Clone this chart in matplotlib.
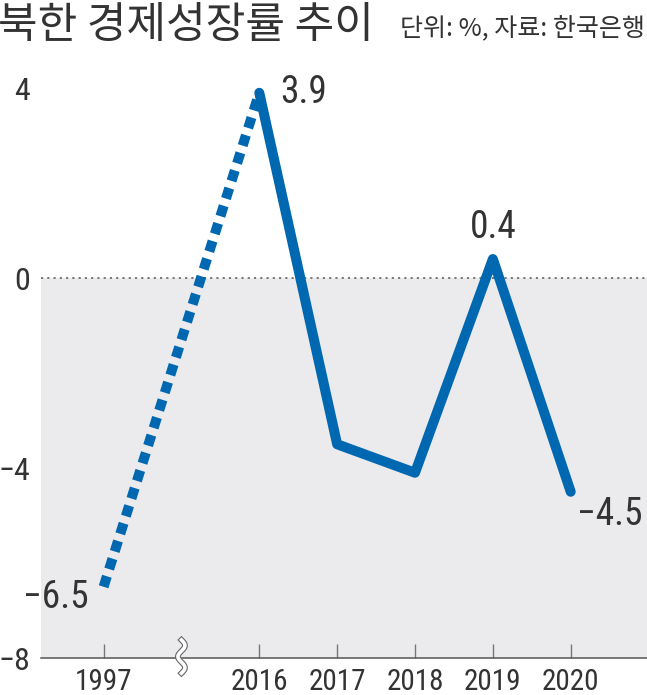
import numpy as np
import matplotlib
matplotlib.use("Agg")
import matplotlib.pyplot as plt
import matplotlib.patheffects as pe
from matplotlib import font_manager as fm

# ---- data ----
years = ["1997", "2016", "2017", "2018", "2019", "2020"]
growth = [-6.5, 3.9, -3.5, -4.1, 0.4, -4.5]
label_years = ["1997", "2016", "2019", "2020"]
ytick_values = [-8, -4, 0, 4]
ytick_labels = ["\u22128", "\u22124", "0", "4"]
title = "북한 경제성장률 추이"
subtitle = "단위: %, 자료: 한국은행"


# ---- condensed font for numbers ----
def cond_props():
    for fam, stretch in (("Roboto Condensed", "normal"), ("DejaVu Sans", "condensed")):
        try:
            p = fm.FontProperties(family=fam, stretch=stretch, weight="normal")
            fm.findfont(p, fallback_to_default=False)
            return fam, stretch
        except Exception:
            continue
    return "DejaVu Sans", "normal"


COND_FAM, COND_STRETCH = cond_props()


def numfont(size):
    return fm.FontProperties(family=COND_FAM, stretch=COND_STRETCH, weight="normal", size=size)


KR_FONT = ["Noto Sans CJK KR", "DejaVu Sans"]
BLUE = "#0067b1"
TXT = "#333333"

W, H = 647, 695
fig = plt.figure(figsize=(W / 100, H / 100), dpi=100)
ax = fig.add_axes([41 / W, 37 / H, (W - 41) / W, (658 - 70) / H])

# x positions: a gap slot after the first year marks the axis break
xpos = [0] + list(range(2, 2 + len(years) - 1))

ax.set_xlim(-0.804, 6.98)
ax.set_ylim(-8, 4.38)

ax.axhspan(-8, 0, color="#ebebee", zorder=0, lw=0)
ax.axhline(0, color="#555555", lw=1.1, linestyle=(0, (1.4, 2.7)), zorder=1)

# dotted segment (gap period)
ax.plot(xpos[:2], growth[:2], color=BLUE, lw=7.2, linestyle=(0, (1.1, 0.75)),
        dash_capstyle="butt", zorder=3)
# solid segment
ax.plot(xpos[1:], growth[1:], color=BLUE, lw=7.2, solid_capstyle="round",
        solid_joinstyle="round", zorder=4)

# value labels
offsets = {"1997": (-11, -15, "right"), "2016": (15, -7, "left"),
           "2019": (0, 15, "center"), "2020": (4.5, -24, "left")}
for yr in label_years:
    i = years.index(yr)
    v = growth[i]
    dx, dy, ha = offsets[yr]
    txt = f"{v:.1f}".replace("-", "\u2212")
    ax.annotate(txt, (xpos[i], v), xytext=(dx, dy), textcoords="offset points",
                ha=ha, va="baseline", fontproperties=numfont(27), color=TXT,
                zorder=5)

# axes styling
for s in ["top", "right", "left"]:
    ax.spines[s].set_visible(False)
ax.spines["bottom"].set_color("#555555")
ax.spines["bottom"].set_linewidth(1.1)
ax.spines["bottom"].set_zorder(2)

ax.set_xticks(xpos)
ax.set_xticklabels(years)
ax.tick_params(axis="x", direction="in", length=10, width=1.0, color="#777777",
               pad=7, labelcolor=TXT)
ax.set_yticks(ytick_values)
ax.set_yticklabels(ytick_labels)
ax.tick_params(axis="y", length=0, pad=8, labelcolor=TXT)
for lbl in ax.get_xticklabels():
    lbl.set_fontproperties(numfont(21))
for lbl in ax.get_yticklabels():
    lbl.set_fontproperties(numfont(23))

# axis break symbol
t = np.linspace(0, 1, 80)
bx = 1 + 0.045 * np.sin(2 * np.pi * 1.5 * t)
by = -7.62 - 0.70 * t
ax.plot(bx, by, color="white", lw=2.6, clip_on=False, zorder=6,
        path_effects=[pe.Stroke(linewidth=4.2, foreground="#666666"), pe.Normal()])

# title and subtitle
fig.text(-0.003, 1.0 - 4 / H, title, ha="left", va="top", fontsize=31, color=TXT,
         family=KR_FONT)
fig.text(0.997, (H - 36) / H, subtitle, ha="right", va="baseline", fontsize=18,
         color=TXT, family=KR_FONT)

fig.savefig("out.png", dpi=100)
